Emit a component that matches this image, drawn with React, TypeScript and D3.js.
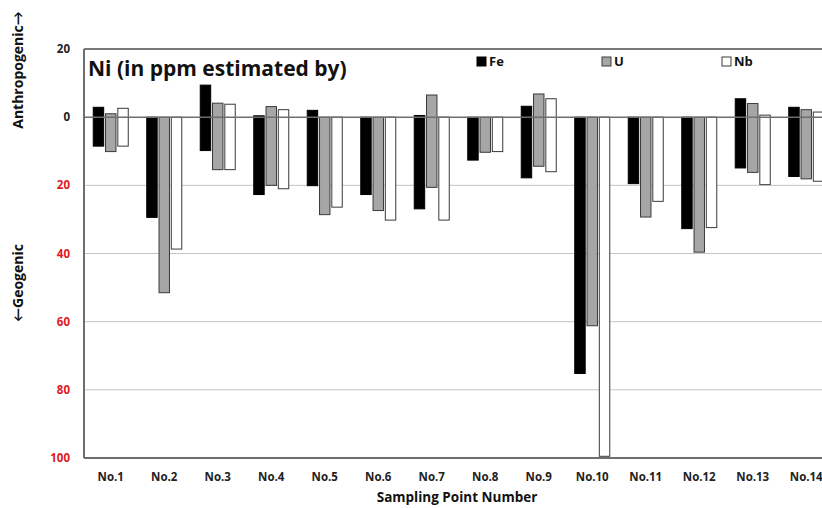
import React from 'react';
import * as d3 from 'd3';

// sampling points
const categories = ['No.1', 'No.2', 'No.3', 'No.4', 'No.5', 'No.6', 'No.7', 'No.8', 'No.9', 'No.10', 'No.11', 'No.12', 'No.13', 'No.14'];
const seriesNames = ['Fe', 'U', 'Nb'];

// floating bars: top (anthropogenic, +) and bottom (geogenic, -) ends, ppm
const feTop = [2.9, 0, 9.4, 0.4, 2.0, 0, 0.5, 0, 3.2, 0, 0, 0, 5.4, 2.9];
const feBottom = [-8.5, -29.4, -9.8, -22.7, -20.1, -22.7, -26.9, -12.6, -17.8, -75.2, -19.5, -32.7, -14.9, -17.4];
const uTop = [1.0, 0, 4.1, 3.1, 0, 0, 6.5, 0, 6.8, 0, 0, 0, 4.0, 2.2];
const uBottom = [-10.1, -51.5, -15.4, -20.0, -28.6, -27.4, -20.6, -10.3, -14.4, -61.2, -29.3, -39.6, -16.2, -18.1];
const nbTop = [2.6, 0, 3.8, 2.2, 0, 0, 0, 0, 5.4, 0, 0, 0, 0.6, 1.5];
const nbBottom = [-8.5, -38.7, -15.4, -21.0, -26.4, -30.2, -30.2, -10.1, -16.0, -99.5, -24.7, -32.4, -19.8, -18.8];

const yTicks = [20, 0, -20, -40, -60, -80, -100];

const fills: Record<string, string> = {Fe: '#000000', U: '#a6a6a6', Nb: '#ffffff'};
const strokes: Record<string, string> = {Fe: '#000000', U: '#3a3a3a', Nb: '#3a3a3a'};

const W = 822;
const H = 508;
const margin = {top: 49, right: -11, bottom: 50, left: 84};
const font = '"Open Sans", Lato, sans-serif';

const App = () => {
  const plotRight = W - margin.right;
  const plotBottom = H - margin.bottom;

  const x = d3.scaleBand<string>()
    .domain(categories)
    .range([margin.left, plotRight]);

  const xInner = d3.scaleBand<string>()
    .domain(seriesNames)
    .range([-17.5, 17.5])
    .paddingInner(0.15);

  const y = d3.scaleLinear()
    .domain([-100, 20])
    .range([plotBottom, margin.top]);

  const ranges: Record<string, [number[], number[]]> = {
    Fe: [feTop, feBottom],
    U: [uTop, uBottom],
    Nb: [nbTop, nbBottom],
  };

  const legendX = [477, 602, 722];

  return (
    <svg width={W} height={H} style={{position: 'absolute', left: 0, top: 0, background: '#fff'}}>
      {/* grid lines */}
      {yTicks.filter(t => t < 0 && t > -100).map(t => (
        <line key={t} x1={margin.left} x2={plotRight} y1={y(t)} y2={y(t)} stroke="#c4c4c4" strokeWidth={1} />
      ))}

      {/* bars */}
      {seriesNames.map(s => (
        <g key={s}>
          {categories.map((c, i) => {
            const [tops, bottoms] = ranges[s];
            const cx = (x(c) as number) + x.bandwidth() / 2;
            const y0 = y(tops[i]);
            const y1 = y(bottoms[i]);
            return (
              <rect
                key={c}
                x={cx + (xInner(s) as number)}
                y={y0}
                width={xInner.bandwidth()}
                height={y1 - y0}
                fill={fills[s]}
                stroke={strokes[s]}
                strokeWidth={1}
              />
            );
          })}
        </g>
      ))}

      {/* zero line and frame */}
      <line x1={margin.left} x2={plotRight} y1={y(0)} y2={y(0)} stroke="#6e6e6e" strokeWidth={1.5} />
      <line x1={margin.left} x2={plotRight} y1={margin.top} y2={margin.top} stroke="#7a7a7a" strokeWidth={2} />
      <line x1={margin.left} x2={plotRight} y1={plotBottom} y2={plotBottom} stroke="#6e6e6e" strokeWidth={2} />
      <line x1={margin.left} x2={margin.left} y1={margin.top} y2={plotBottom} stroke="#6e6e6e" strokeWidth={2} />

      {/* y tick labels */}
      {yTicks.map(t => (
        <text
          key={t}
          x={70}
          y={y(t)}
          dy="0.35em"
          textAnchor="end"
          fontFamily={font}
          fontWeight="bold"
          fontSize={11.5}
          fill={t < 0 ? '#e0191e' : '#222'}
        >
          {Math.abs(t)}
        </text>
      ))}

      {/* x tick labels */}
      {categories.map(c => (
        <text
          key={c}
          x={(x(c) as number) + x.bandwidth() / 2}
          y={481}
          textAnchor="middle"
          fontFamily={font}
          fontWeight="bold"
          fontSize={11.5}
          fill="#222"
        >
          {c}
        </text>
      ))}

      <text x={457} y={502} textAnchor="middle" fontFamily={font} fontWeight="bold" fontSize={13.5} fill="#111">
        Sampling Point Number
      </text>

      {/* y axis titles */}
      <text transform="translate(23, 70) rotate(-90)" textAnchor="middle" fontFamily={font} fontWeight="bold" fontSize={14} fill="#111">
        Anthropogenic→
      </text>
      <text transform="translate(23, 283) rotate(-90)" textAnchor="middle" fontFamily={font} fontWeight="bold" fontSize={14} fill="#111">
        ←Geogenic
      </text>

      {/* title */}
      <text x={88} y={76} fontFamily={font} fontWeight="bold" fontSize={21} fill="#111">
        Ni (in ppm estimated by)
      </text>

      {/* legend */}
      {seriesNames.map((s, i) => (
        <g key={s}>
          <rect x={legendX[i]} y={57} width={9} height={9} fill={fills[s]} stroke={strokes[s]} strokeWidth={1} />
          <text x={legendX[i] + 12} y={66} fontFamily={font} fontWeight="bold" fontSize={13} fill="#111">
            {s}
          </text>
        </g>
      ))}
    </svg>
  );
};

export default App;
